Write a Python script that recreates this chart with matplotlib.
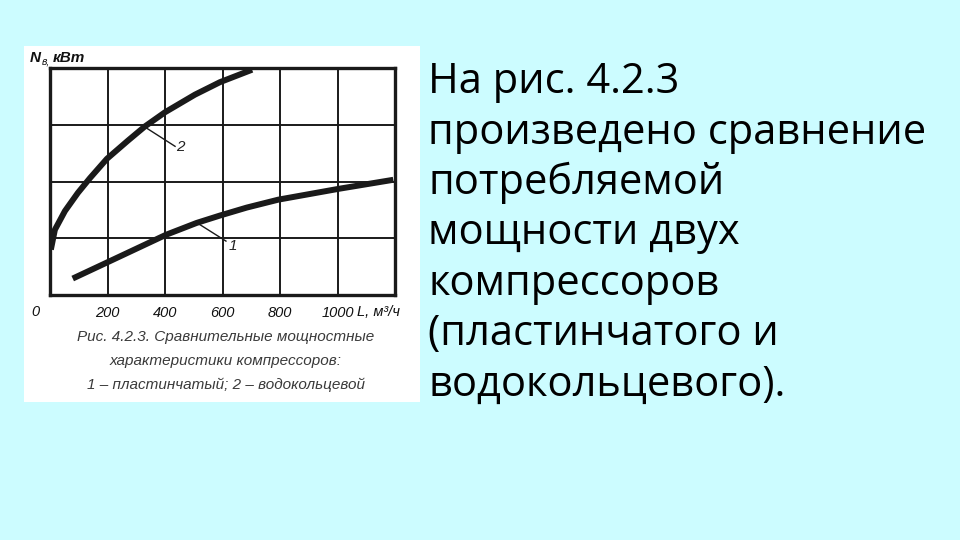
import numpy as np
import matplotlib
matplotlib.use("Agg")
import matplotlib.pyplot as plt
from matplotlib.patches import Rectangle
import matplotlib.transforms as mtransforms

# data (x in m3/h, y in grid units)
x_vane = [79, 197, 403, 510, 591, 684, 794, 1003, 1194]
y_vane = [0.29, 0.57, 1.06, 1.27, 1.40, 1.54, 1.68, 1.87, 2.03]

x_ring = [3, 17, 52, 97, 139, 198, 271, 330, 400, 504, 591, 703]
y_ring = [0.80, 1.15, 1.48, 1.80, 2.06, 2.40, 2.72, 2.97, 3.22, 3.53, 3.75, 3.97]

x_ticks = [200, 400, 600, 800, 1000]
caption = ["Рис. 4.2.3. Сравнительные мощностные",
           "характеристики компрессоров:",
           "1 – пластинчатый; 2 – водокольцевой"]
slide_text = ["На рис. 4.2.3", "произведено сравнение", "потребляемой",
              "мощности двух", "компрессоров", "(пластинчатого и",
              "водокольцевого)."]

W, H = 960, 540
bg = "#ccfcff"
fig = plt.figure(figsize=(W / 100, H / 100), dpi=100, facecolor=bg)

def fx(px):
    return px / W

def fy(py):
    return 1 - py / H

# white panel behind the scanned figure
fig.patches.append(Rectangle((fx(24), fy(402)), fx(420) - fx(24), fy(46) - fy(402),
                             transform=fig.transFigure, facecolor="white",
                             edgecolor="none", zorder=-5))

ax = fig.add_axes([fx(50), fy(295), fx(395) - fx(50), fy(68) - fy(295)])
ax.set_zorder(3)
ax.set_facecolor("white")
ax.set_xlim(0, 1200)
ax.set_ylim(0, 4)
ax.set_yticks(np.arange(0, 5, 1))
ax.set_xticks(x_ticks)
ax.grid(True, color="#1a1a1a", lw=1.4)
ax.set_axisbelow(True)
for s in ax.spines.values():
    s.set_linewidth(2.4)
    s.set_color("#1a1a1a")
ax.tick_params(length=0, pad=8, labelleft=False)
ax.set_xticklabels([str(v) for v in x_ticks], fontsize=10.5, style="italic",
                   family="Liberation Sans", color="#111111")

ax.plot(x_vane, y_vane, color="#1a1a1a", lw=4.3, solid_capstyle="butt",
        solid_joinstyle="round", zorder=5)
ax.plot(x_ring, y_ring, color="#1a1a1a", lw=4.3, solid_capstyle="butt",
        solid_joinstyle="round", zorder=5)

# leader lines and curve numbers
ax.plot([330, 435], [2.96, 2.62], color="#1a1a1a", lw=1.0, zorder=4)
ax.text(440, 2.6, "2", fontsize=11, style="italic", family="Liberation Sans",
        va="center", ha="left", color="#222222")
ax.plot([515, 612], [1.26, 0.95], color="#1a1a1a", lw=1.0, zorder=4)
ax.text(620, 0.86, "1", fontsize=11, style="italic", family="Liberation Sans",
        va="center", ha="left", color="#222222")

trans = mtransforms.blended_transform_factory(ax.transData, fig.transFigure)
ax.text(-52, fy(312), "0", transform=trans, fontsize=10.5, style="italic",
        family="Liberation Sans", ha="center", va="center", color="#111111")
ax.text(1068, fy(312), "L, м³/ч", transform=trans, fontsize=10.5, style="italic",
        family="Liberation Sans", ha="left", va="center", color="#111111")

# axis title at top-left
fig.text(fx(30), fy(62), "N", fontsize=11, style="italic", weight="bold",
         family="Liberation Sans", va="baseline", color="#111111")
fig.text(fx(42), fy(65), "в,", fontsize=7.5, style="italic",
         family="Liberation Sans", va="baseline", color="#111111")
fig.text(fx(53), fy(62), "кВт", fontsize=11, style="italic", weight="bold",
         family="Liberation Sans", va="baseline", color="#111111")

for i, line in enumerate(caption):
    fig.text(fx(226), fy(337 + 24 * i), line, fontsize=11, style="italic",
             family="Liberation Sans", ha="center", va="center", color="#3a3a3a")

for i, line in enumerate(slide_text):
    fig.text(fx(428), fy(93 + 50.5 * i), line, fontsize=30, family="Open Sans",
             ha="left", va="baseline", color="black")

fig.savefig("out.png", dpi=100, facecolor=bg)
